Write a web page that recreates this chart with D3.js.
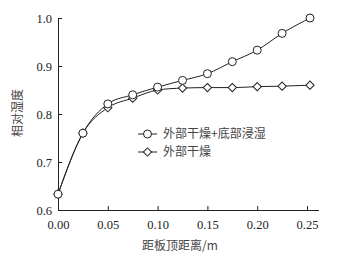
<!DOCTYPE html>
<html>
<head>
<meta charset="utf-8">
<script src="https://cdn.jsdelivr.net/npm/d3@7"></script>
<style>
  body { margin: 0; background: #fff; }
  text { font-family: "Liberation Serif", serif; fill: #222; }
  .cjk { font-family: "Noto Sans CJK SC", sans-serif; fill: #444; }
</style>
</head>
<body>
<div id="canvas"></div>
<script>
"use strict"

let svgWidth = 349;
let svgHeight = 260;

// distance from top of board (m)
let distA = [0, 0.025, 0.05, 0.075, 0.1, 0.125, 0.15, 0.175, 0.2, 0.225, 0.253];
let humidA = [0.633, 0.760, 0.821, 0.840, 0.856, 0.870, 0.884, 0.909, 0.933, 0.968, 1.0];
let distB = [0, 0.025, 0.05, 0.075, 0.1, 0.125, 0.15, 0.175, 0.2, 0.225, 0.253];
let humidB = [0.633, 0.760, 0.813, 0.833, 0.850, 0.854, 0.855, 0.855, 0.857, 0.858, 0.860];

let seriesNames = ["外部干燥+底部浸湿", "外部干燥"];
let xTicks = [0, 0.05, 0.1, 0.15, 0.2, 0.25];
let yTicks = [0.6, 0.7, 0.8, 0.9, 1.0];

let svg = d3.select("#canvas")
    .append("svg")
    .attr("width", svgWidth)
    .attr("height", svgHeight);

/* Scales */
let xScale = d3.scaleLinear()
    .domain([0, 0.25])
    .range([58, 307]);

let yScale = d3.scaleLinear()
    .domain([0.6, 1.0])
    .range([210, 18]);

/* Axes */
let xAxis = svg.append("g")
    .attr("transform", "translate(0,210)")
    .call(d3.axisBottom(xScale).tickValues(xTicks).tickSizeInner(-4).tickSizeOuter(0)
        .tickPadding(10).tickFormat(d3.format(".2f")));

let yAxis = svg.append("g")
    .attr("transform", "translate(58,0)")
    .call(d3.axisLeft(yScale).tickValues(yTicks).tickSizeInner(-4).tickSizeOuter(0)
        .tickPadding(6).tickFormat(d3.format(".1f")));

// extend x axis line past last tick
xAxis.select(".domain").attr("d", "M58,0.5H319");

svg.selectAll(".domain, .tick line")
    .attr("stroke", "#222")
    .attr("stroke-width", 1);

svg.selectAll(".tick text")
    .attr("font-size", 12.5)
    .attr("font-family", "Liberation Serif, serif")
    .attr("fill", "#222");

/* Axis titles */
svg.append("text")
    .attr("class", "cjk")
    .attr("x", 180)
    .attr("y", 250)
    .attr("text-anchor", "middle")
    .attr("font-size", 12)
    .text("距板顶距离/m");

svg.append("text")
    .attr("class", "cjk")
    .attr("transform", "translate(22,113) rotate(-90)")
    .attr("text-anchor", "middle")
    .attr("font-size", 12)
    .text("相对湿度");

/* Lines */
let line = d3.line()
    .x(d => xScale(d[0]))
    .y(d => yScale(d[1]))
    .curve(d3.curveMonotoneX);

let dataA = d3.zip(distA, humidA);
let dataB = d3.zip(distB, humidB);

svg.append("path")
    .datum(dataA)
    .attr("fill", "none")
    .attr("stroke", "#222")
    .attr("stroke-width", 1)
    .attr("d", line);

svg.append("path")
    .datum(dataB)
    .attr("fill", "none")
    .attr("stroke", "#222")
    .attr("stroke-width", 1)
    .attr("d", line);

// square rotated 45 degrees -> diamond
let diamond = d3.symbol().type(d3.symbolSquare).size(34);

svg.selectAll("path.markB")
    .data(dataB)
    .join("path")
    .attr("class", "markB")
    .attr("transform", d => `translate(${xScale(d[0])},${yScale(d[1])}) rotate(45)`)
    .attr("d", diamond)
    .attr("fill", "#fff")
    .attr("stroke", "#222");

svg.selectAll("circle.markA")
    .data(dataA)
    .join("circle")
    .attr("class", "markA")
    .attr("cx", d => xScale(d[0]))
    .attr("cy", d => yScale(d[1]))
    .attr("r", 4)
    .attr("fill", "#fff")
    .attr("stroke", "#222");

/* Legend */
let legend = svg.append("g").attr("transform", "translate(138,134)");

seriesNames.forEach(function(name, i) {
    let row = legend.append("g").attr("transform", `translate(0,${i * 18})`);
    row.append("line")
        .attr("x1", 0).attr("x2", 19)
        .attr("stroke", "#222");
    if (i === 0) {
        row.append("circle").attr("cx", 9.5).attr("r", 4)
            .attr("fill", "#fff").attr("stroke", "#222");
    } else {
        row.append("path").attr("transform", "translate(9.5,0) rotate(45)")
            .attr("d", diamond).attr("fill", "#fff").attr("stroke", "#222");
    }
    row.append("text")
        .attr("class", "cjk")
        .attr("x", 25)
        .attr("y", 4)
        .attr("font-size", 12)
        .text(name);
});
</script>
</body>
</html>
